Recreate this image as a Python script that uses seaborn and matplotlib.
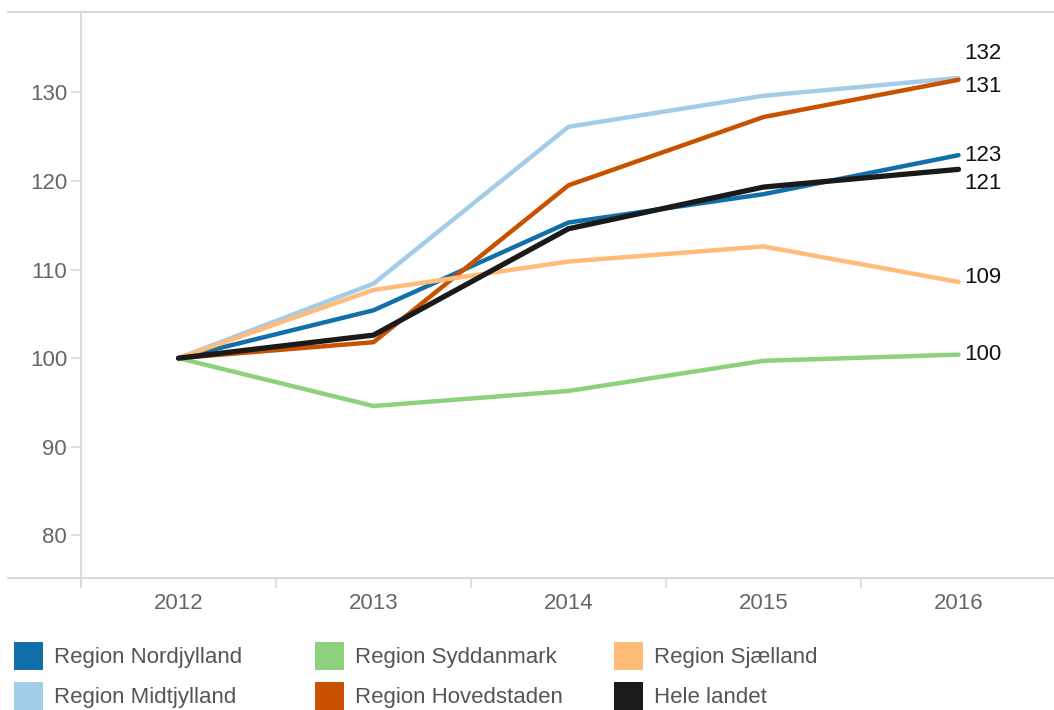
import matplotlib
matplotlib.use("Agg")
import matplotlib.pyplot as plt
from matplotlib.patches import Patch
import seaborn as sns
import pandas as pd

# Index values (2012 = 100)
years = [2012, 2013, 2014, 2015, 2016]
regions = ["Region Nordjylland", "Region Midtjylland", "Region Syddanmark",
           "Region Hovedstaden", "Region Sjælland", "Hele landet"]
nordjylland = [100, 105.4, 115.3, 118.5, 122.9]
midtjylland = [100, 108.4, 126.1, 129.6, 131.6]
syddanmark = [100, 94.6, 96.3, 99.7, 100.4]
hovedstaden = [100, 101.8, 119.5, 127.2, 131.4]
sjaelland = [100, 107.7, 110.9, 112.6, 108.6]
hele_landet = [100, 102.6, 114.6, 119.3, 121.3]
y_ticks = [80, 90, 100, 110, 120, 130]

series = [nordjylland, midtjylland, syddanmark, hovedstaden, sjaelland, hele_landet]
colors = ["#1170aa", "#a3cce9", "#8cd17d", "#c85200", "#ffbc79", "#1a1a1a"]
widths = [3.2, 3.2, 3.2, 3.2, 3.2, 3.8]
# vertical offsets (points) of the end labels
label_dy = [0, 18, 0, -5, 3, -10]

df = pd.DataFrame({
    "year": years * len(regions),
    "region": [r for r in regions for _ in years],
    "value": [v for s in series for v in s],
})

sns.set_theme(style="white")
plt.rcParams["font.family"] = ["Liberation Sans", "DejaVu Sans"]

fig = plt.figure(figsize=(10.54, 7.10), dpi=100)
ax = fig.add_axes([81 / 1054, 1 - 578 / 710, 975 / 1054, (578 - 12) / 710])

# regional lines first, national line last so it sits on top
for name, color, lw in zip(regions, colors, widths):
    sns.lineplot(data=df[df["region"] == name], x="year", y="value",
                 color=color, linewidth=lw, ax=ax, legend=False,
                 solid_capstyle="round", solid_joinstyle="round")

ax.set_xlim(2011.5, 2016.5)
ax.set_ylim(75.2, 139.05)
ax.set_xlabel("")
ax.set_ylabel("")

grid_c = "#d9d9d9"
for side in ["top", "right", "bottom"]:
    ax.spines[side].set_visible(False)
ax.spines["left"].set_color(grid_c)
ax.spines["left"].set_linewidth(1.5)
ax.spines["left"].set_bounds(ax.get_ylim()[0] - 0.8, ax.get_ylim()[1])
ax.spines["left"].set_clip_on(False)

# top and bottom rules extend to the left edge of the figure
x0 = (8 - 81) / 975
for yv in ax.get_ylim():
    ax.axhline(yv, xmin=x0, xmax=1, color=grid_c, linewidth=1.5, clip_on=False, zorder=0)

ax.set_yticks(y_ticks)
ax.set_yticklabels([str(t) for t in y_ticks])
ax.tick_params(axis="y", which="major", length=7, width=1.2, color=grid_c,
               labelsize=16, labelcolor="#666666", pad=3, left=True)

ax.set_xticks(years)
ax.set_xticklabels([str(y) for y in years])
ax.set_xticks([y - 0.5 for y in years] + [2016.5], minor=True)
ax.tick_params(axis="x", which="major", length=0, labelsize=16,
               labelcolor="#666666", pad=11)
ax.tick_params(axis="x", which="minor", length=7, width=1.2, color=grid_c,
               bottom=True)

# value labels at the last year
for s, dy in zip(series, label_dy):
    ax.annotate(f"{round(s[-1])}", xy=(years[-1], s[-1]), xytext=(4, dy),
                textcoords="offset points", ha="left", va="center",
                fontsize=16, color="#111111", annotation_clip=False)

# legend: three columns of two entries each
handles = [Patch(facecolor=c, edgecolor="none") for c in colors]
col_x = [14, 315, 614]
for i, xpx in enumerate(col_x):
    fig.legend(handles[2 * i:2 * i + 2], regions[2 * i:2 * i + 2],
               loc="upper left", bbox_to_anchor=(xpx / 1054, 1 - 642 / 710),
               borderaxespad=0, borderpad=0, frameon=False,
               fontsize=16, handlelength=1.31, handleheight=1.55,
               handletextpad=0.47, labelspacing=0.55,
               labelcolor="#555555")

fig.savefig("out.png", dpi=100)
